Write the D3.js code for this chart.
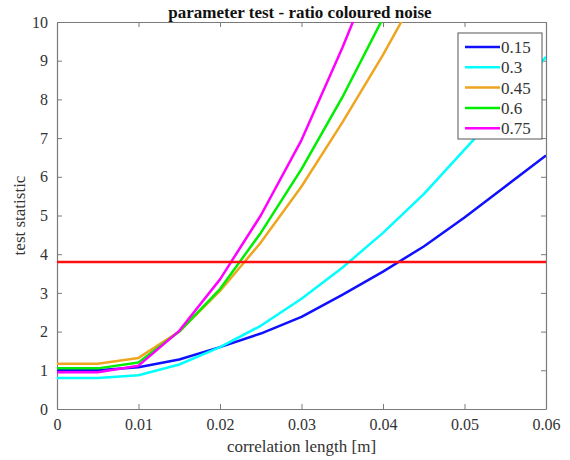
<!DOCTYPE html>
<html>
<head>
<meta charset="utf-8">
<script src="https://cdn.jsdelivr.net/npm/d3@7"></script>
<style>
html,body{margin:0;padding:0;background:#fff;}
svg text{font-family:"Liberation Serif","Times New Roman",serif;}
</style>
</head>
<body>
<svg id="chart" width="570" height="460"></svg>
<script>
const xValues = [0, 0.005, 0.01, 0.015, 0.02, 0.025, 0.03, 0.035, 0.04, 0.045, 0.05, 0.055, 0.06];
const seriesNames = ["0.15", "0.3", "0.45", "0.6", "0.75"];
const seriesColors = ["#1010ff", "#00ffff", "#eea520", "#00ee00", "#ff00ff"];
const s015 = [1.0, 1.0, 1.08, 1.28, 1.6, 1.95, 2.38, 2.95, 3.55, 4.2, 4.95, 5.75, 6.55];
const s030 = [0.8, 0.8, 0.87, 1.15, 1.6, 2.15, 2.85, 3.65, 4.55, 5.55, 6.7, 7.85, 9.1];
const s045 = [1.17, 1.17, 1.32, 2.0, 3.05, 4.3, 5.75, 7.4, 9.15, 11.05, 13.0, 15.0, 17.0];
const s060 = [1.05, 1.05, 1.2, 2.0, 3.1, 4.55, 6.2, 8.05, 10.1, 12.2, 14.4, 16.6, 18.8];
const s075 = [0.95, 0.95, 1.12, 2.02, 3.35, 5.0, 6.95, 9.33, 11.9, 14.5, 17.1, 19.7, 22.3];
const thresholdValue = 3.8;
const xTicks = [0, 0.01, 0.02, 0.03, 0.04, 0.05, 0.06];
const yTicks = [0, 1, 2, 3, 4, 5, 6, 7, 8, 9, 10];
const titleText = "parameter test - ratio coloured noise";
const xLabel = "correlation length [m]";
const yLabel = "test statistic";

const allSeries = [s015, s030, s045, s060, s075];

const svg = d3.select("#chart");
const FONT = "'Liberation Serif','Times New Roman',serif";
const m = {left: 57, right: 24, top: 22, bottom: 51};
const W = 570, H = 460;
const x = d3.scaleLinear().domain([0, 0.06]).range([m.left, W - m.right]);
const y = d3.scaleLinear().domain([0, 10]).range([H - m.bottom, m.top]);

const axisColor = "#7a7a7a";
const textColor = "#333";

svg.append("defs").append("clipPath").attr("id", "clip")
  .append("rect").attr("x", m.left).attr("y", m.top)
  .attr("width", x.range()[1] - m.left).attr("height", y.range()[0] - m.top);

// axes
const tickLen = 5;
const xAxisB = d3.axisBottom(x).tickValues(xTicks).tickFormat(d => d === 0 ? "0" : d3.format(".2~f")(d)).tickSizeInner(-tickLen).tickSizeOuter(0).tickPadding(10);
const xAxisT = d3.axisTop(x).tickValues(xTicks).tickFormat("").tickSizeInner(-tickLen).tickSizeOuter(0);
const yAxisL = d3.axisLeft(y).tickValues(yTicks).tickFormat(d3.format("d")).tickSizeInner(-tickLen).tickSizeOuter(0).tickPadding(9);
const yAxisR = d3.axisRight(y).tickValues(yTicks).tickFormat("").tickSizeInner(-tickLen).tickSizeOuter(0);

function styleAxis(g){
  g.attr("font-family", FONT).attr("font-size", 16);
  g.select(".domain").attr("stroke", axisColor).attr("stroke-width", 1.2);
  g.selectAll(".tick line").attr("stroke", axisColor);
  g.selectAll(".tick text").attr("fill", textColor).style("font-size", "16px").style("font-family", FONT);
}
svg.append("g").attr("transform", `translate(0,${y(0)})`).call(xAxisB).call(styleAxis);
svg.append("g").attr("transform", `translate(0,${y(10)})`).call(xAxisT).call(styleAxis);
svg.append("g").attr("transform", `translate(${x(0)},0)`).call(yAxisL).call(styleAxis);
svg.append("g").attr("transform", `translate(${x(0.06)},0)`).call(yAxisR).call(styleAxis);

// lines
const line = d3.line().x((d, i) => x(xValues[i])).y(d => y(d));
const plot = svg.append("g").attr("clip-path", "url(#clip)");
allSeries.forEach((s, i) => {
  plot.append("path").datum(s).attr("d", line).attr("fill", "none")
    .attr("stroke", seriesColors[i]).attr("stroke-width", 2.5).attr("stroke-linejoin", "round");
});
plot.append("line").attr("x1", x(0)).attr("x2", x(0.06)).attr("y1", y(thresholdValue)).attr("y2", y(thresholdValue))
  .attr("stroke", "#ff1010").attr("stroke-width", 2.5);

// title and labels
svg.append("text").attr("x", 300).attr("y", 18).attr("text-anchor", "middle").style("font-family", FONT)
  .style("font-size", "17px").style("font-weight", "bold").attr("fill", "#111").text(titleText);
svg.append("text").attr("x", (x(0) + x(0.06)) / 2).attr("y", 452).attr("text-anchor", "middle").style("font-family", FONT)
  .style("font-size", "17px").attr("fill", textColor).text(xLabel);
svg.append("text").attr("transform", `translate(25,${(y(0) + y(10)) / 2}) rotate(-90)`).attr("text-anchor", "middle").style("font-family", FONT)
  .style("font-size", "17px").attr("fill", textColor).text(yLabel);

// legend
const lg = svg.append("g");
lg.append("rect").attr("x", 458).attr("y", 33).attr("width", 84).attr("height", 106)
  .attr("fill", "#fff").attr("stroke", "#555").attr("stroke-width", 1);
seriesNames.forEach((n, i) => {
  const yy = 47 + i * 20.3;
  lg.append("line").attr("x1", 465).attr("x2", 500).attr("y1", yy).attr("y2", yy)
    .attr("stroke", seriesColors[i]).attr("stroke-width", 2.5);
  lg.append("text").attr("x", 501).attr("y", yy + 6).style("font-family", FONT).style("font-size", "17px").attr("fill", textColor).text(n);
});
</script>
</body>
</html>
